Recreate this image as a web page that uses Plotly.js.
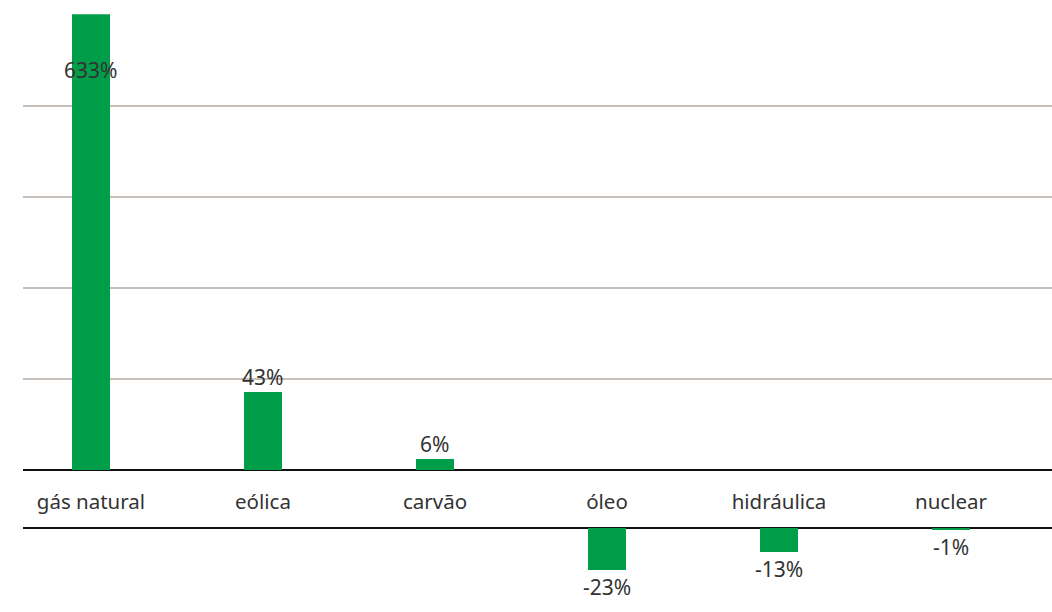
<!DOCTYPE html>
<html>
<head>
<meta charset="utf-8">
<script src="https://cdn.plot.ly/plotly-3.0.1.min.js"></script>
<style>html,body{margin:0;padding:0;background:#fff;}#chart{width:1052px;height:612px;}</style>
</head>
<body>
<div id="chart"></div>
<script>
const categories = ['gás natural', 'eólica', 'carvão', 'óleo', 'hidráulica', 'nuclear'];
const values = [633, 43, 6, -23, -13, -1];
const labels = ['633%', '43%', '6%', '-23%', '-13%', '-1%'];

const GREEN = '#009e49';
const TEXT = '#333333';
const FONT = 'Noto Sans, Open Sans, sans-serif';
const UPPER_MAX = 250.4;

const H = 612;
const PX_PER_UNIT = 455 / 250;
const upperDomain = [(H - 470) / H, (H - (470 - UPPER_MAX * PX_PER_UNIT)) / H];
const lowerDomain = [0, (H - 527) / H];

const posValues = values.map(v => (v > 0 ? v : null));
const negValues = values.map(v => (v < 0 ? v : null));

const traces = [
  { type: 'bar', x: categories, y: posValues, xaxis: 'x', yaxis: 'y',
    marker: { color: GREEN }, width: 0.22, hoverinfo: 'skip' },
  { type: 'bar', x: categories, y: negValues, xaxis: 'x', yaxis: 'y2',
    marker: { color: GREEN }, width: 0.22, hoverinfo: 'skip' }
];

const annotations = values.map((v, i) => {
  if (v >= 0) {
    const clipped = v > UPPER_MAX;
    return { x: categories[i], y: clipped ? 220 : v, xref: 'x', yref: 'y',
      text: labels[i], showarrow: false, yanchor: clipped ? 'middle' : 'bottom',
      yshift: clipped ? 0 : -1, font: { family: FONT, size: 21, color: TEXT } };
  }
  return { x: categories[i], y: v, xref: 'x', yref: 'y2', text: labels[i], showarrow: false,
    yanchor: 'top', yshift: -1, font: { family: FONT, size: 21, color: TEXT } };
});

const layout = {
  width: 1052, height: 612,
  margin: { l: 23, r: 0, t: 0, b: 0 },
  paper_bgcolor: '#ffffff', plot_bgcolor: '#ffffff',
  showlegend: false,
  bargap: 0,
  font: { family: FONT, size: 20, color: TEXT },
  xaxis: { type: 'category', anchor: 'y', range: [-0.395, 5.587], showgrid: false,
    showline: false, zeroline: false, ticks: 'outside', ticklen: 13, tickcolor: 'rgba(0,0,0,0)',
    tickfont: { family: FONT, size: 20.5, color: TEXT }, fixedrange: true },
  yaxis: { domain: upperDomain, range: [0, UPPER_MAX], dtick: 50, showticklabels: false,
    showgrid: true, gridcolor: '#c8bfb8', gridwidth: 1.5, zeroline: true,
    zerolinecolor: '#111111', zerolinewidth: 2.5, fixedrange: true },
  yaxis2: { domain: lowerDomain, range: [-46, 0.6], showticklabels: false, showgrid: false,
    zeroline: true, zerolinecolor: '#111111', zerolinewidth: 2.5, anchor: 'x', fixedrange: true },
  annotations: annotations
};

Plotly.newPlot('chart', traces, layout, { displayModeBar: false, staticPlot: true });
</script>
</body>
</html>
